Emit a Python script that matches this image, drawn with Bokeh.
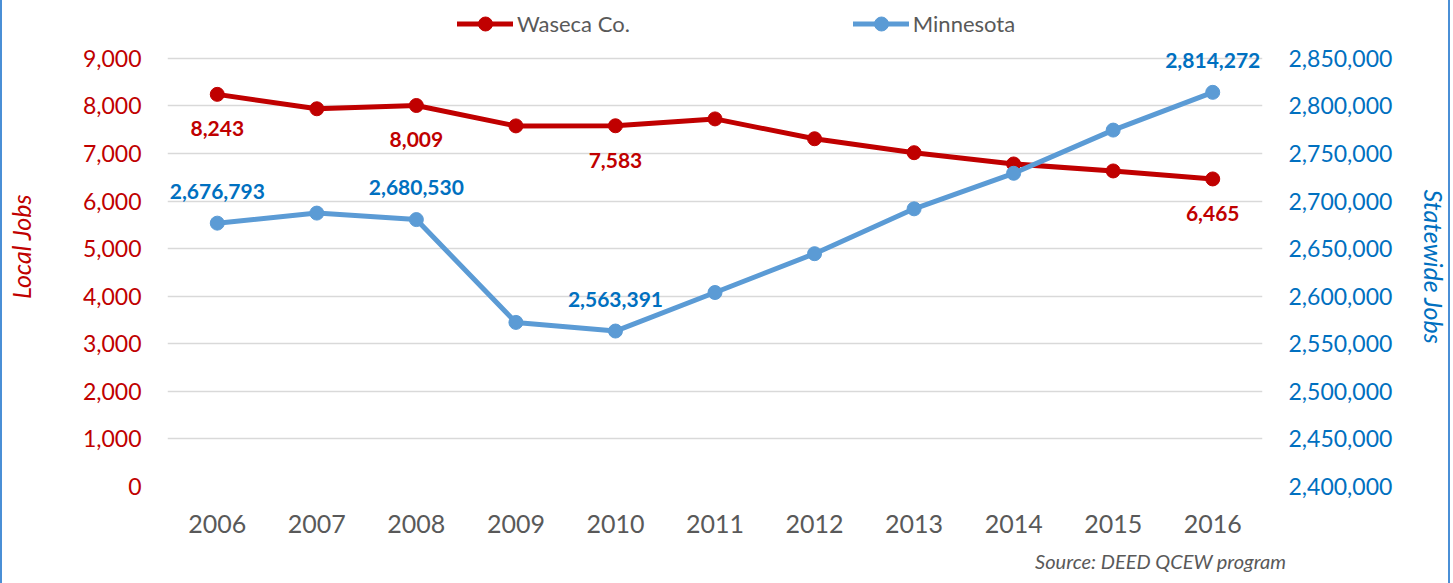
import math
from bokeh.plotting import figure
from bokeh.models import (Range1d, LinearAxis, Legend, LegendItem, FactorRange, Title,
                          NumeralTickFormatter, FixedTicker)
from bokeh.core.properties import value
from bokeh.embed import file_html
from bokeh.resources import INLINE

# ---- data ----
years = ["2006", "2007", "2008", "2009", "2010", "2011", "2012", "2013", "2014", "2015", "2016"]
waseca = [8243, 7940, 8009, 7580, 7583, 7727, 7310, 7017, 6780, 6633, 6465]
minnesota = [2676793, 2687350, 2680530, 2572470, 2563391, 2603900, 2644700, 2691840, 2729200, 2774600, 2814272]
label_years = ["2006", "2008", "2010", "2016"]
left_ticks = [0, 1000, 2000, 3000, 4000, 5000, 6000, 7000, 8000, 9000]
right_ticks = [2400000, 2450000, 2500000, 2550000, 2600000, 2650000, 2700000, 2750000, 2800000, 2850000]
series_names = ["Waseca Co.", "Minnesota"]
left_title = "Local Jobs"
right_title = "Statewide Jobs"
source_note = "Source: DEED QCEW program"

RED = "#C00000"
BLUE_LINE = "#5B9BD5"
BLUE_TEXT = "#0070C0"
GRAY = "#595959"
FRAME_BLUE = "#4A8FD6"
FONT = "Lato"

# head-room above the top tick (fraction of one tick step) to hold the legend
HEAD = 1.09
lstep = left_ticks[1] - left_ticks[0]
rstep = right_ticks[1] - right_ticks[0]

p = figure(x_range=FactorRange(*years),
           y_range=Range1d(left_ticks[0], left_ticks[-1] + HEAD * lstep),
           width=1450, height=583, output_backend="svg", toolbar_location=None,
           min_border_left=164, min_border_right=187, min_border_top=6, min_border_bottom=95)
p.styles = {"border-left": f"2px solid {FRAME_BLUE}", "border-right": f"2px solid {FRAME_BLUE}"}
p.outline_line_color = None
p.background_fill_color = "white"
p.border_fill_color = "white"
p.extra_y_ranges = {"mn": Range1d(right_ticks[0], right_ticks[-1] + HEAD * rstep)}

def style_axis(ax, color, size):
    ax.axis_line_color = None
    ax.major_tick_line_color = None
    ax.minor_tick_line_color = None
    ax.major_tick_out = 0
    ax.major_tick_in = 0
    ax.minor_tick_out = 0
    ax.major_label_text_font = FONT
    ax.major_label_text_font_size = size
    ax.major_label_text_color = color

# left axis
ya = p.yaxis[0]
ya.ticker = FixedTicker(ticks=left_ticks)
ya.formatter = NumeralTickFormatter(format="0,0")
style_axis(ya, RED, "23px")
ya.major_label_standoff = 26
ya.axis_label = left_title
ya.axis_label_text_font = FONT
ya.axis_label_text_font_style = "italic"
ya.axis_label_text_font_size = "25px"
ya.axis_label_text_color = RED
ya.axis_label_standoff = 44

# right axis
ra = LinearAxis(y_range_name="mn", ticker=FixedTicker(ticks=right_ticks),
                formatter=NumeralTickFormatter(format="0,0"))
style_axis(ra, BLUE_TEXT, "23px")
ra.major_label_standoff = 26
ra.axis_label = "\u00a0" * 7 + right_title
ra.axis_label_text_font = FONT
ra.axis_label_text_font_style = "italic"
ra.axis_label_text_font_size = "25px"
ra.axis_label_text_color = BLUE_TEXT
ra.axis_label_standoff = 24
p.add_layout(ra, "right")

# x axis
xa = p.xaxis[0]
style_axis(xa, GRAY, "25px")
xa.major_label_standoff = 28

p.xgrid.grid_line_color = None
p.ygrid.ticker = FixedTicker(ticks=left_ticks)
p.ygrid.grid_line_color = "#D9D9D9"
p.ygrid.grid_line_width = 1.5

# series
r1 = p.line(years, waseca, line_color=RED, line_width=5, line_join="round", line_cap="round")
s1 = p.scatter(years, waseca, size=14, fill_color=RED, line_color=RED)
r2 = p.line(years, minnesota, line_color=BLUE_LINE, line_width=5, line_join="round", line_cap="round",
            y_range_name="mn")
s2 = p.scatter(years, minnesota, size=14, fill_color=BLUE_LINE, line_color=BLUE_LINE, y_range_name="mn")

# data labels
red_vals = [waseca[years.index(y)] for y in label_years]
blue_vals = [minnesota[years.index(y)] for y in label_years]
p.text(x=label_years, y=red_vals, text=[f"{v:,}" for v in red_vals],
       text_font=value(FONT), text_font_style="bold", text_font_size=value("21px"),
       text_color=RED, text_align="center", text_baseline="middle", y_offset=34.5)
p.text(x=label_years, y=blue_vals, text=[f"{v:,}" for v in blue_vals], y_range_name="mn",
       text_font=value(FONT), text_font_style="bold", text_font_size=value("21px"),
       text_color=BLUE_TEXT, text_align="center", text_baseline="middle", y_offset=-32)

# legend (inside the head-room of the frame)
legend = Legend(items=[LegendItem(label=series_names[0], renderers=[r1, s1]),
                       LegendItem(label=series_names[1], renderers=[r2, s2])],
                orientation="horizontal", location=(290, 445.5), padding=0, margin=0,
                spacing=223, glyph_width=56, glyph_height=35, label_standoff=4,
                label_text_font=FONT, label_text_font_size="22px", label_text_color=GRAY,
                border_line_color=None, background_fill_alpha=0)
p.add_layout(legend, "center")

# source note
note = Title(text=source_note, align="right", offset=-24, standoff=22, text_font=FONT,
             text_font_style="italic", text_font_size="20px", text_color=GRAY)
p.add_layout(note, "below")

open("out.html", "w").write(file_html(p, INLINE))
